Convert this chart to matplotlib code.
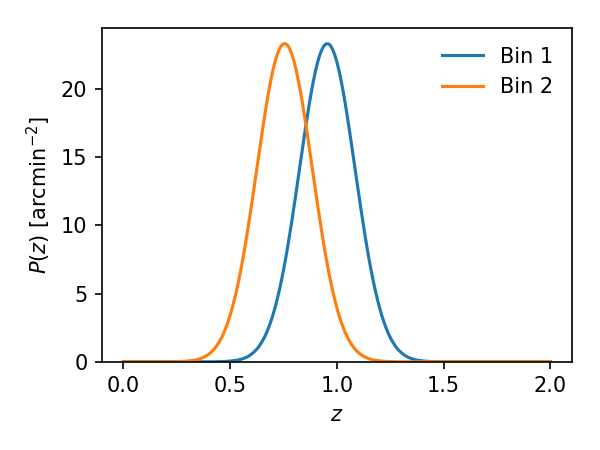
import numpy as np
import matplotlib
matplotlib.use("Agg")
import matplotlib.pyplot as plt

# redshift grid (coarse in the flat tails, 0.01 steps where the curves rise)
z = [0.00, 0.10, 0.20,
     0.22, 0.23, 0.24, 0.25, 0.26, 0.27, 0.28, 0.29, 0.30, 0.31,
     0.32, 0.33, 0.34, 0.35, 0.36, 0.37, 0.38, 0.39, 0.40, 0.41,
     0.42, 0.43, 0.44, 0.45, 0.46, 0.47, 0.48, 0.49, 0.50, 0.51,
     0.52, 0.53, 0.54, 0.55, 0.56, 0.57, 0.58, 0.59, 0.60, 0.61,
     0.62, 0.63, 0.64, 0.65, 0.66, 0.67, 0.68, 0.69, 0.70, 0.71,
     0.72, 0.73, 0.74, 0.75, 0.76, 0.77, 0.78, 0.79, 0.80, 0.81,
     0.82, 0.83, 0.84, 0.85, 0.86, 0.87, 0.88, 0.89, 0.90, 0.91,
     0.92, 0.93, 0.94, 0.95, 0.96, 0.97, 0.98, 0.99, 1.00, 1.01,
     1.02, 1.03, 1.04, 1.05, 1.06, 1.07, 1.08, 1.09, 1.10, 1.11,
     1.12, 1.13, 1.14, 1.15, 1.16, 1.17, 1.18, 1.19, 1.20, 1.21,
     1.22, 1.23, 1.24, 1.25, 1.26, 1.27, 1.28, 1.29, 1.30, 1.31,
     1.32, 1.33, 1.34, 1.35, 1.36, 1.37, 1.38, 1.39, 1.40, 1.41,
     1.42, 1.43, 1.44, 1.45, 1.46, 1.47, 1.48, 1.49, 1.50,
     1.60, 1.70, 1.80, 1.90, 2.00]

# Bin 1 (blue), peak near z ~ 0.95
bin1 = [0, 0, 0,
        0, 0, 0, 0, 0, 0, 0, 0, 0, 0,
        0, 0, 0, 0, 0, 0, 0, 0, 0, 0,
        0.00, 0.00, 0.01, 0.01, 0.02, 0.02, 0.03, 0.04, 0.05, 0.07,
        0.09, 0.11, 0.14, 0.18, 0.23, 0.29, 0.36, 0.45, 0.56, 0.69,
        0.84, 1.02, 1.24, 1.49, 1.77, 2.11, 2.49, 2.92, 3.40, 3.95,
        4.55, 5.21, 5.93, 6.72, 7.56, 8.46, 9.42, 10.41, 11.45, 12.51,
        13.59, 14.68, 15.76, 16.82, 17.84, 18.82, 19.73, 20.56, 21.31, 21.95,
        22.47, 22.87, 23.15, 23.28, 23.28, 23.15, 22.87, 22.47, 21.95, 21.31,
        20.56, 19.73, 18.82, 17.84, 16.82, 15.76, 14.68, 13.59, 12.51, 11.45,
        10.41, 9.42, 8.46, 7.56, 6.72, 5.93, 5.21, 4.55, 3.95, 3.40,
        2.92, 2.49, 2.11, 1.77, 1.49, 1.24, 1.02, 0.84, 0.69, 0.56,
        0.45, 0.36, 0.29, 0.23, 0.18, 0.14, 0.11, 0.09, 0.07, 0.05,
        0.04, 0.03, 0.02, 0.02, 0.01, 0.01, 0.00, 0.00, 0,
        0, 0, 0, 0, 0]

# Bin 2 (orange), peak near z ~ 0.75
bin2 = [0, 0, 0,
        0.00, 0.00, 0.01, 0.01, 0.02, 0.02, 0.03, 0.04, 0.05, 0.07,
        0.09, 0.11, 0.14, 0.18, 0.23, 0.29, 0.36, 0.45, 0.56, 0.69,
        0.84, 1.02, 1.24, 1.49, 1.77, 2.11, 2.49, 2.92, 3.40, 3.95,
        4.55, 5.21, 5.93, 6.72, 7.56, 8.46, 9.42, 10.41, 11.45, 12.51,
        13.59, 14.68, 15.76, 16.82, 17.84, 18.82, 19.73, 20.56, 21.31, 21.95,
        22.47, 22.87, 23.15, 23.28, 23.28, 23.15, 22.87, 22.47, 21.95, 21.31,
        20.56, 19.73, 18.82, 17.84, 16.82, 15.76, 14.68, 13.59, 12.51, 11.45,
        10.41, 9.42, 8.46, 7.56, 6.72, 5.93, 5.21, 4.55, 3.95, 3.40,
        2.92, 2.49, 2.11, 1.77, 1.49, 1.24, 1.02, 0.84, 0.69, 0.56,
        0.45, 0.36, 0.29, 0.23, 0.18, 0.14, 0.11, 0.09, 0.07, 0.05,
        0.04, 0.03, 0.02, 0.02, 0.01, 0.01, 0.00, 0.00, 0, 0,
        0, 0, 0, 0, 0, 0, 0, 0, 0, 0,
        0, 0, 0, 0, 0, 0, 0, 0, 0,
        0, 0, 0, 0, 0]

fig, ax = plt.subplots(figsize=(4, 3), dpi=150)
fig.subplots_adjust(left=0.17, right=0.953, top=0.938, bottom=0.196)

ax.plot(z, bin1, label='Bin 1')
ax.plot(z, bin2, label='Bin 2')
ax.set_ylim(bottom=0)

ax.set_xlabel('$z$')
ax.set_ylabel(r'$P(z)$ [arcmin$^{-2}$]')
ax.legend(frameon=False, loc='upper right')

fig.savefig('out.png', dpi=150)
